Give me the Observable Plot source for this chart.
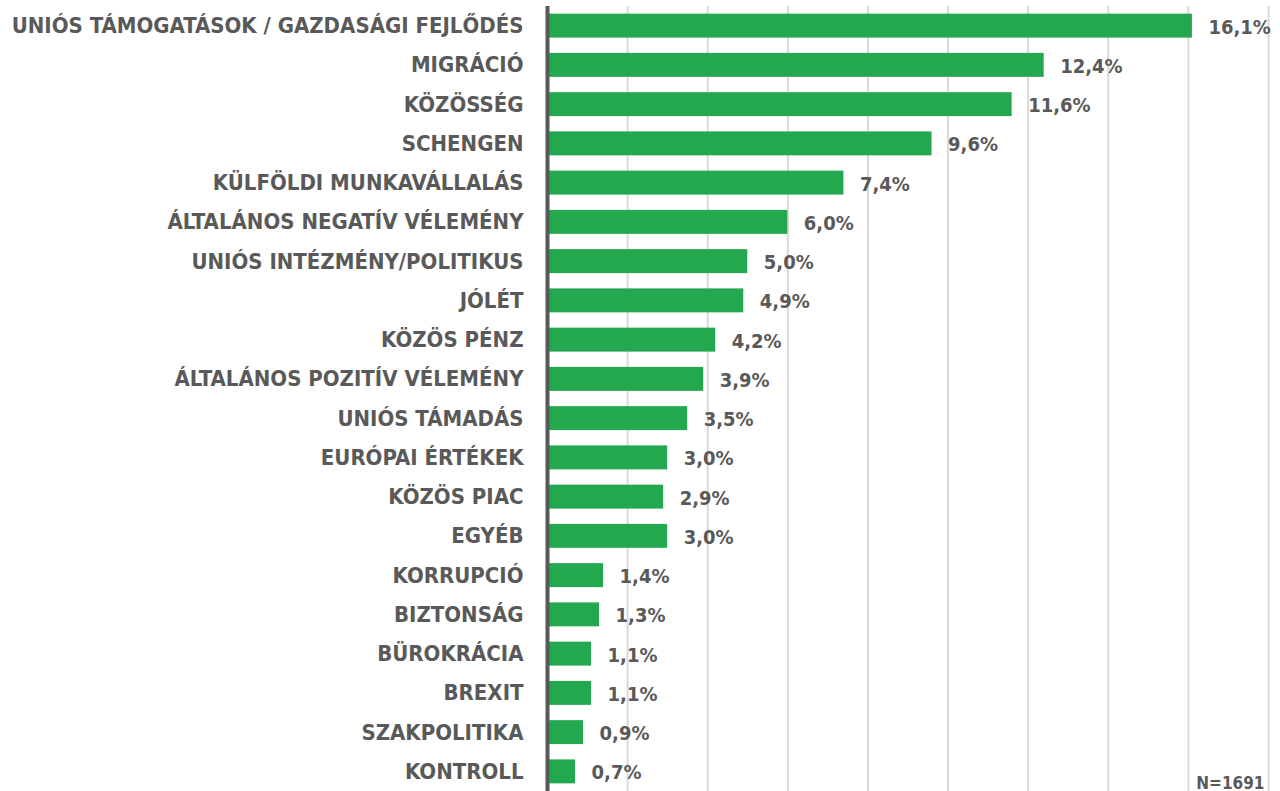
<!DOCTYPE html>
<html>
<head>
<meta charset="utf-8">
<script src="https://cdn.jsdelivr.net/npm/d3@7"></script>
<script src="https://cdn.jsdelivr.net/npm/@observablehq/plot@0.6"></script>
<style>
  html, body { margin: 0; padding: 0; background: #ffffff; }
  #chart { width: 1280px; height: 791px; }
</style>
</head>
<body>
<div id="chart"></div>
<script>
const categories = [
  "UNIÓS TÁMOGATÁSOK / GAZDASÁGI FEJLŐDÉS",
  "MIGRÁCIÓ",
  "KÖZÖSSÉG",
  "SCHENGEN",
  "KÜLFÖLDI MUNKAVÁLLALÁS",
  "ÁLTALÁNOS NEGATÍV VÉLEMÉNY",
  "UNIÓS INTÉZMÉNY/POLITIKUS",
  "JÓLÉT",
  "KÖZÖS PÉNZ",
  "ÁLTALÁNOS POZITÍV VÉLEMÉNY",
  "UNIÓS TÁMADÁS",
  "EURÓPAI ÉRTÉKEK",
  "KÖZÖS PIAC",
  "EGYÉB",
  "KORRUPCIÓ",
  "BIZTONSÁG",
  "BÜROKRÁCIA",
  "BREXIT",
  "SZAKPOLITIKA",
  "KONTROLL"
];
const values = [16.1, 12.4, 11.6, 9.6, 7.4, 6.0, 5.0, 4.9, 4.2, 3.9, 3.5, 3.0, 2.9, 3.0, 1.4, 1.3, 1.1, 1.1, 0.9, 0.7];
const gridTicks = [2, 4, 6, 8, 10, 12, 14, 16, 18];
const note = "N=1691";

const data = categories.map((c, i) => ({category: c, value: values[i]}));
const fmt = v => v.toFixed(1).replace(".", ",") + "%";

const textColor = "#595959";
const font = "'DejaVu Sans Condensed', 'DejaVu Sans', sans-serif";

const chart = Plot.plot({
  width: 1280,
  height: 791,
  marginLeft: 547,
  marginRight: 12,
  marginTop: 6,
  marginBottom: 0,
  style: {fontFamily: font, background: "#ffffff"},
  x: {domain: [0, 18], axis: null},
  y: {domain: categories, paddingInner: 0.39, paddingOuter: 0.195, round: false, axis: null},
  marks: [
    Plot.ruleX(gridTicks, {stroke: "#d9d9d9", strokeWidth: 2}),
    Plot.barX(data, {x: "value", y: "category", fill: "#23a84f"}),
    Plot.ruleX([0], {stroke: "#595959", strokeWidth: 4}),
    Plot.axisY({
      tickSize: 0,
      tickPadding: 24,
      fontSize: 22,
      fontWeight: "bold",
      fill: textColor,
      label: null
    }),
    Plot.text(data, {
      x: "value",
      y: "category",
      text: d => fmt(d.value),
      textAnchor: "start",
      dx: 16,
      dy: 1,
      fontSize: 20,
      fontWeight: "bold",
      fill: textColor
    }),
    Plot.text([note], {
      frameAnchor: "bottom-right",
      text: d => d,
      textAnchor: "end",
      lineAnchor: "bottom",
      dx: -4,
      dy: -3,
      fontSize: 17,
      fontWeight: "bold",
      fill: textColor
    })
  ]
});
document.getElementById("chart").appendChild(chart);
</script>
</body>
</html>
